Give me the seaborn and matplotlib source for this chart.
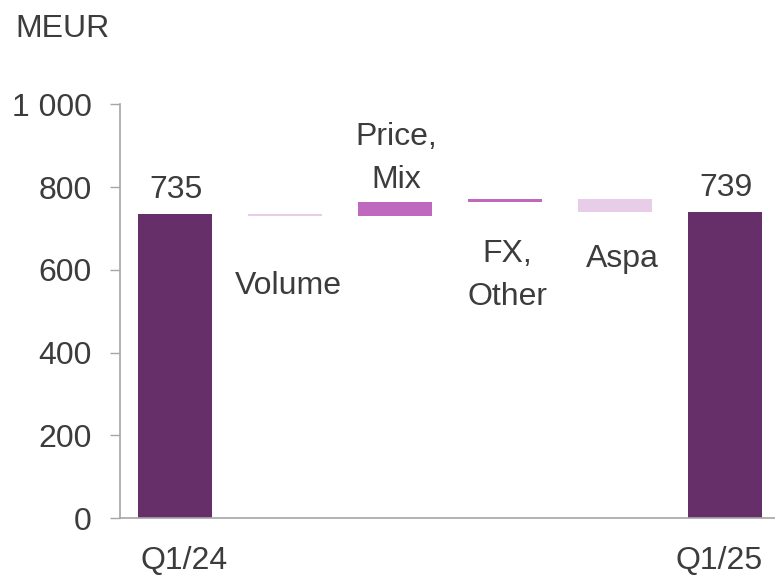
import matplotlib
matplotlib.use("Agg")
import matplotlib.pyplot as plt
import matplotlib.transforms as mtransforms
from matplotlib.ticker import FuncFormatter
import numpy as np
import pandas as pd
import seaborn as sns

# Bridge from Q1/24 to Q1/25 sales (MEUR)
steps = ["Q1/24", "Volume", "Price,\nMix", "FX,\nOther", "Aspa", "Q1/25"]
start_total = 735
changes = [-4, 33, 8, -33]
end_total = 739
bar_colors = ["#672F6A", "#E8CDE8", "#BE69BE", "#BE69BE", "#E8CDE8", "#672F6A"]
y_ticks = [0, 200, 400, 600, 800, 1000]

# Waterfall geometry: running level after each change
levels = np.cumsum([start_total] + changes)
bottoms = [0] + [min(a, b) for a, b in zip(levels[:-1], levels[1:])] + [0]
heights = [start_total] + [abs(c) for c in changes] + [end_total]
df = pd.DataFrame({"step": steps, "height": heights, "bottom": bottoms})

sns.set_theme(style="white")
plt.rcParams["font.family"] = ["Liberation Sans", "DejaVu Sans"]
TEXT = "#3C3C3C"
AXIS = "#A6A6A6"
FS = 23

fig = plt.figure(figsize=(7.75, 5.76), dpi=100)
ax = fig.add_axes([120 / 775, 58 / 576, 655 / 775, 413.5 / 576])

sns.barplot(data=df, x="step", y="height", order=steps, bottom=df["bottom"].values,
            width=0.673, color=bar_colors[0], saturation=1, linewidth=0, ax=ax)
for patch, c in zip(ax.patches, bar_colors):
    patch.set_facecolor(c)

ax.set_xlim(-0.5, 5.4545)
ax.set_ylim(0, 1000)
ax.set_xlabel("")
ax.set_ylabel("")

for side in ("top", "right"):
    ax.spines[side].set_visible(False)
for side in ("left", "bottom"):
    ax.spines[side].set_color(AXIS)
    ax.spines[side].set_linewidth(1.2)

ax.set_yticks(y_ticks)
ax.yaxis.set_major_formatter(FuncFormatter(lambda v, p: f"{v:,.0f}".replace(",", " ")))
ax.tick_params(axis="y", direction="out", length=7.2, width=1.0, color=AXIS,
               pad=13, labelsize=FS, labelcolor=TEXT, left=True)

# Only the two totals carry an axis label
ax.set_xticks([0, 5])
ax.set_xticklabels([steps[0], steps[5]])
ax.tick_params(axis="x", length=0, pad=20.5, labelsize=FS, labelcolor=TEXT, bottom=False)
for lbl, dx in zip(ax.get_xticklabels(), [9, -6]):
    lbl.set_transform(lbl.get_transform() + mtransforms.ScaledTranslation(dx / 100, 0, fig.dpi_scale_trans))

# Value labels on the totals
for i, v in [(0, start_total), (5, end_total)]:
    ax.annotate(f"{v}", xy=(i, v), xytext=(1, 11.5), textcoords="offset points",
                ha="center", va="baseline", fontsize=FS, color=TEXT)

# Step names placed around the floating bars (x offset px, baseline of last line in data units)
step_label_pos = {1: (3, 542), 2: (1, 798), 3: (2, 515), 4: (7, 607)}
for i, (dx, y) in step_label_pos.items():
    ax.annotate(steps[i], xy=(i, y), xytext=(dx * 0.72, 0), textcoords="offset points",
                ha="center", va="baseline", fontsize=FS, color=TEXT, linespacing=1.55,
                annotation_clip=False)

fig.text(15 / 775, 1 - 37 / 576, "MEUR", ha="left", va="baseline", fontsize=FS, color=TEXT)

fig.savefig("out.png", dpi=100)
